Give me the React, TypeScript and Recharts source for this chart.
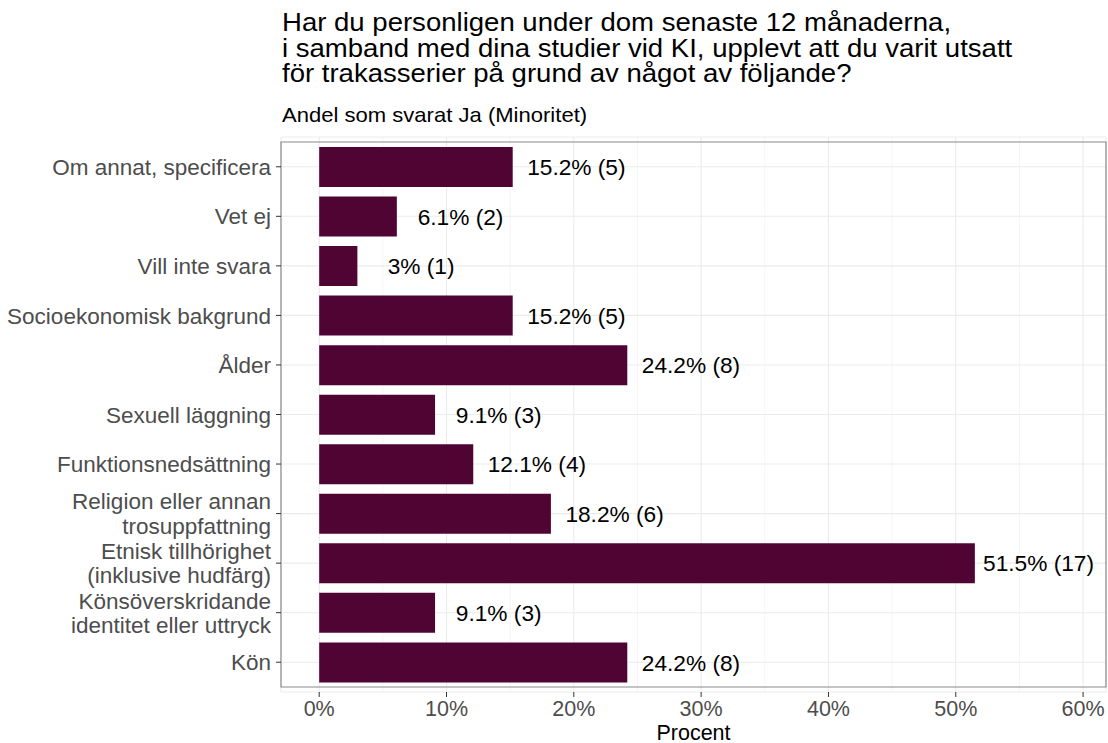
import React from "react";
import {
  BarChart,
  Bar,
  XAxis,
  YAxis,
  CartesianGrid,
  ReferenceArea,
  LabelList,
} from "recharts";

const categories: string[] = [
  "Om annat, specificera",
  "Vet ej",
  "Vill inte svara",
  "Socioekonomisk bakgrund",
  "Ålder",
  "Sexuell läggning",
  "Funktionsnedsättning",
  "Religion eller annan\ntrosuppfattning",
  "Etnisk tillhörighet\n(inklusive hudfärg)",
  "Könsöverskridande\nidentitet eller uttryck",
  "Kön",
];
const percents: number[] = [15.2, 6.1, 3, 15.2, 24.2, 9.1, 12.1, 18.2, 51.5, 9.1, 24.2];
const counts: number[] = [5, 2, 1, 5, 8, 3, 4, 6, 17, 3, 8];
const majorTicks: number[] = [0, 10, 20, 30, 40, 50, 60];
const minorTicks: number[] = [5, 15, 25, 35, 45, 55];

const titleLines: string[] = [
  "Har du personligen under dom senaste 12 månaderna,",
  "i samband med dina studier vid KI, upplevt att du varit utsatt",
  "för trakasserier på grund av något av följande?",
];
const subtitle = "Andel som svarat Ja (Minoritet)";
const xTitle = "Procent";

const data = categories.map((c, i) => ({
  cat: c,
  value: percents[i],
  label: `${percents[i]}% (${counts[i]})`,
}));

const W = 1108;
const H = 743;
const LEFT = 281;
const RIGHT_M = 2;
const TOP = 137;
const XAXIS_H = 51;
const DOMAIN: [number, number] = [-3, 61.8];
const PX_PER_UNIT = (W - LEFT - RIGHT_M) / (DOMAIN[1] - DOMAIN[0]);
const FONT = "'Liberation Sans', Arial, Helvetica, sans-serif";

const YTick = (props: any) => {
  const { x, y, payload } = props;
  const lines = String(payload.value).split("\n");
  const lh = 24.5;
  const start = -((lines.length - 1) * lh) / 2;
  return (
    <text
      x={x - 3}
      y={y}
      textAnchor="end"
      fill="#4D4D4D"
      fontSize={22.5}
      fontFamily={FONT}
    >
      {lines.map((l, i) => (
        <tspan key={i} x={x - 3} y={y + start + i * lh} dy="0.36em">
          {l}
        </tspan>
      ))}
    </text>
  );
};

const BarLabel = (props: any) => {
  const { x, y, width, height, value } = props;
  return (
    <text
      x={x + width + 5 * PX_PER_UNIT}
      y={y + height / 2}
      dy="0.36em"
      textAnchor="middle"
      fill="#000"
      fontSize={22.7}
      fontFamily={FONT}
    >
      {value}
    </text>
  );
};

const minorGen = (props: any) => {
  const scale = props?.xAxis?.scale;
  const off = props?.offset;
  return minorTicks.map((t) => {
    if (typeof scale === "function") return scale(t);
    if (scale && typeof scale.map === "function") return scale.map(t);
    const left = off?.left ?? LEFT;
    const w = off?.width ?? W - LEFT - RIGHT_M;
    return left + ((t - DOMAIN[0]) / (DOMAIN[1] - DOMAIN[0])) * w;
  });
};

export default function App() {
  return (
    <div
      style={{
        position: "absolute",
        left: 0,
        top: 0,
        width: W,
        height: H,
        background: "#fff",
        fontFamily: FONT,
      }}
    >
      <div
        style={{
          position: "absolute",
          left: 282,
          top: 10,
          fontSize: 25.5,
          lineHeight: "25.5px",
          color: "#000",
          whiteSpace: "pre",
          transform: "scaleX(1.08)",
          transformOrigin: "left top",
        }}
      >
        {titleLines.join("\n")}
      </div>
      <div
        style={{
          position: "absolute",
          left: 282,
          top: 105,
          fontSize: 21,
          lineHeight: "20px",
          color: "#000",
          whiteSpace: "pre",
          transform: "scaleX(1.05)",
          transformOrigin: "left top",
        }}
      >
        {subtitle}
      </div>
      <BarChart
        width={W}
        height={H}
        data={data}
        layout="vertical"
        margin={{ top: TOP, right: RIGHT_M, bottom: 0, left: 0 }}
        barCategoryGap="10%"
      >
        <CartesianGrid
          stroke="#F3F3F3"
          strokeWidth={0.8}
          horizontal={false}
          verticalCoordinatesGenerator={minorGen}
        />
        <CartesianGrid stroke="#EBEBEB" strokeWidth={1.1} />
        <XAxis
          type="number"
          dataKey="value"
          domain={DOMAIN}
          ticks={majorTicks}
          allowDataOverflow
          tickFormatter={(v: number) => `${v}%`}
          height={XAXIS_H}
          tickSize={5}
          tickMargin={4}
          axisLine={false}
          tickLine={{ stroke: "#333" }}
          tick={{ fill: "#4D4D4D", fontSize: 21.5, fontFamily: FONT }}
        />
        <YAxis
          type="category"
          dataKey="cat"
          width={LEFT}
          tickSize={5}
          axisLine={false}
          tickLine={{ stroke: "#333" }}
          tick={<YTick />}
          interval={0}
          padding={{ top: 5, bottom: 5 }}
        />
        <Bar dataKey="value" fill="#4F0433" isAnimationActive={false}>
          <LabelList dataKey="label" content={<BarLabel />} />
        </Bar>
        <ReferenceArea
          x1={DOMAIN[0]}
          x2={DOMAIN[1]}
          fill="none"
          fillOpacity={0}
          stroke="#8A8A8A"
          strokeWidth={1.2}
          ifOverflow="visible"
        />
      </BarChart>
      <div
        style={{
          position: "absolute",
          left: LEFT,
          width: W - LEFT - RIGHT_M,
          top: 725,
          textAlign: "center",
          fontSize: 21.5,
          lineHeight: "16px",
          color: "#000",
        }}
      >
        {xTitle}
      </div>
    </div>
  );
}
